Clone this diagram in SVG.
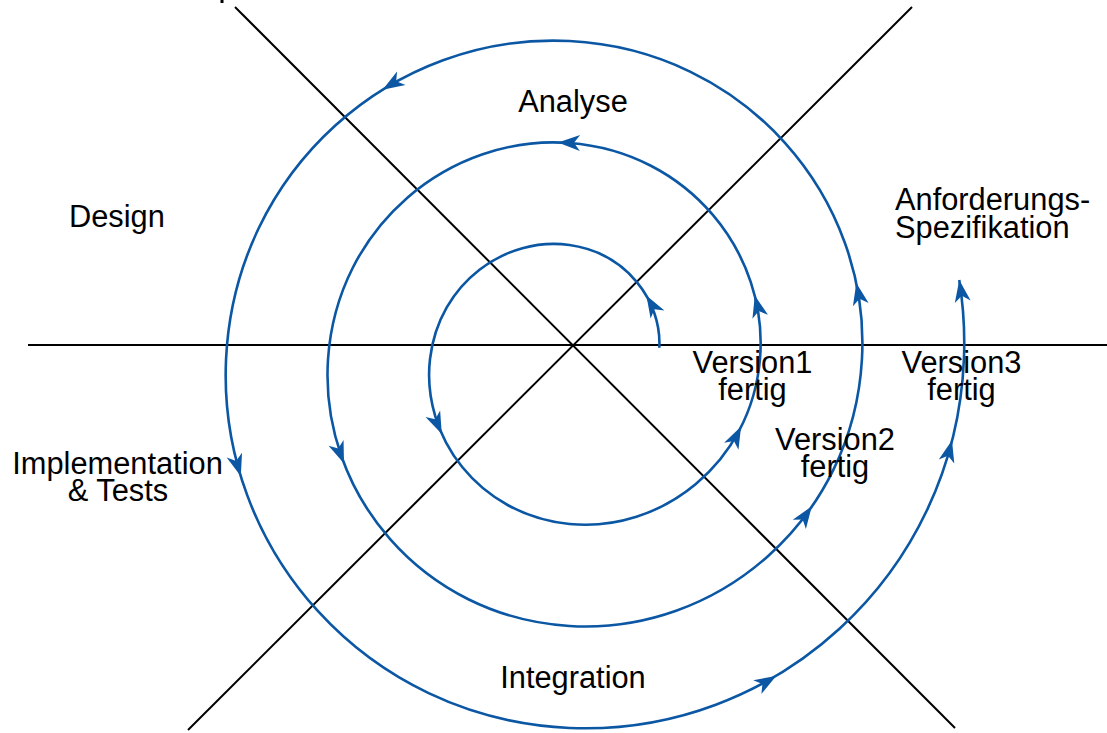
<svg xmlns="http://www.w3.org/2000/svg" xmlns:xlink="http://www.w3.org/1999/xlink" width="1107" height="733" viewBox="0 0 1107 733">
<style>
.axis{stroke:#000;stroke-width:2;fill:none}
.spiral{stroke:#0b57a4;stroke-width:2.6;fill:none}
.ah{fill:#0b57a4}
.lbl{font-family:"Liberation Sans",Arial,sans-serif;font-size:30.8px;fill:#000}
.c{text-anchor:middle}
</style>
<defs>
<path id="ah" d="M0,0 L-22,-8 L-16,0 L-22,8 Z"/>
</defs>
<rect width="1107" height="733" fill="#fff"/>
<g id="connectors">
<line class="axis" x1="28" y1="345" x2="1107" y2="345"/>
<line class="axis" x1="235" y1="7" x2="955" y2="728"/>
<line class="axis" x1="912" y1="7" x2="188" y2="730"/>
<rect x="220.5" y="0" width="3" height="3" fill="#000"/>
<path class="spiral" d="M659.32,347.71 C661.74,301.42 626.95,253.19 569.5,245.01 C506.54,236.05 438.97,281.96 430.01,359 C421.05,436.04 478.38,515.02 569.5,523.98 C660.62,532.94 751.02,464.2 759.98,359 C768.94,253.8 688.78,151.99 569.5,143.03 C450.22,134.07 337,225.64 328.04,359 C319.08,492.36 422.06,617 569.5,625.96 C716.94,634.92 852.99,520.52 861.95,359 C870.91,197.48 745.1,50.01 569.5,41.05 C393.9,32.09 235.02,169.32 226.06,359 C217.1,548.68 365.73,718.98 569.5,727.94 C773.27,736.9 954.97,576.84 963.93,359 C965.01,332.69 963.46,306.21 959.25,279.99"/>
<g class="ah">
<use xlink:href="#ah" transform="translate(646.4,295.5) rotate(-120.3)"/>
<use xlink:href="#ah" transform="translate(754.8,295.5) rotate(-104.2)"/>
<use xlink:href="#ah" transform="translate(856.3,283) rotate(-101.7)"/>
<use xlink:href="#ah" transform="translate(959.25,280) rotate(-99.1)"/>
<use xlink:href="#ah" transform="translate(558,142.5) rotate(-178.8)"/>
<use xlink:href="#ah" transform="translate(382.6,89.8) rotate(148.1)"/>
<use xlink:href="#ah" transform="translate(441.8,433.9) rotate(65.9)"/>
<use xlink:href="#ah" transform="translate(344,463.4) rotate(68.9)"/>
<use xlink:href="#ah" transform="translate(240.8,476.2) rotate(73)"/>
<use xlink:href="#ah" transform="translate(741.1,426.6) rotate(-63.5)"/>
<use xlink:href="#ah" transform="translate(811.8,506.3) rotate(-55.4)"/>
<use xlink:href="#ah" transform="translate(776.2,675.9) rotate(-30.7)"/>
<use xlink:href="#ah" transform="translate(952,440.2) rotate(-75.6)"/>
</g>
</g>
<g id="analyse"><text class="lbl c" x="573" y="112">Analyse</text></g>
<g id="design"><text class="lbl" x="69" y="227">Design</text></g>
<g id="anforderungen"><text class="lbl" x="895" y="210">Anforderungs-</text><text class="lbl" x="895" y="238">Spezifikation</text></g>
<g id="version1"><text class="lbl c" x="752.5" y="373">Version1</text><text class="lbl c" x="752.5" y="400">fertig</text></g>
<g id="version2"><text class="lbl c" x="835" y="450">Version2</text><text class="lbl c" x="835" y="477">fertig</text></g>
<g id="version3"><text class="lbl c" x="961.5" y="373">Version3</text><text class="lbl c" x="961.5" y="400">fertig</text></g>
<g id="implementation"><text class="lbl c" x="117.5" y="474">Implementation</text><text class="lbl c" x="118" y="501">&amp; Tests</text></g>
<g id="integration"><text class="lbl c" x="573" y="688">Integration</text></g>
</svg>
